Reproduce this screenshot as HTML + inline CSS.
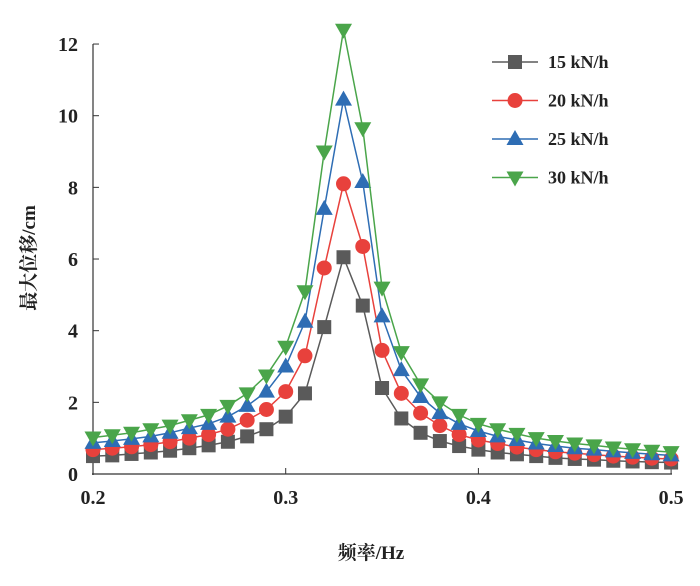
<!DOCTYPE html>
<html><head><meta charset="utf-8"><style>
body{margin:0;background:#fff}
svg text{font-family:"Liberation Serif","Noto Serif CJK SC",serif;font-weight:bold;fill:#222}
</style></head><body>
<svg id="s" width="700" height="581" xmlns="http://www.w3.org/2000/svg">
<line x1="93" y1="44" x2="93" y2="475" stroke="#333" stroke-width="1.2"/>
<line x1="92" y1="474" x2="672" y2="474" stroke="#333" stroke-width="1.2"/>
<g id="ticks"></g>
<g id="series"></g>
<text x="371" y="559" font-size="19" text-anchor="middle">频率/Hz</text>
<text transform="translate(35,258) rotate(-90)" font-size="19" text-anchor="middle">最大位移/cm</text>
<g id="legend"></g>
</svg>
<script>
var X=function(v){return 93+(v-0.2)/0.1*192.7},Y=function(v){return 474-v*35.83};
var t="";
for(var i=0;i<=12;i+=2){t+='<line x1="93" x2="99" y1="'+Y(i)+'" y2="'+Y(i)+'" stroke="#333"/><text x="78" y="'+(Y(i)+7)+'" font-size="20" text-anchor="end">'+i+'</text>';}
for(var k=0;k<=3;k++){var x=X(0.2+k*0.1);t+='<line x1="'+x+'" x2="'+x+'" y1="468" y2="474" stroke="#333"/><text x="'+x+'" y="504" font-size="20" text-anchor="middle">'+(0.2+k*0.1).toFixed(1)+'</text>';}
document.getElementById("ticks").innerHTML=t;
var D=[
[0.5,0.52,0.56,0.6,0.65,0.72,0.8,0.9,1.05,1.25,1.6,2.25,4.1,6.05,4.7,2.4,1.55,1.15,0.92,0.78,0.68,0.6,0.55,0.5,0.45,0.42,0.4,0.37,0.35,0.33,0.32],
[0.68,0.72,0.76,0.82,0.9,1.0,1.1,1.25,1.5,1.8,2.3,3.3,5.75,8.1,6.35,3.45,2.25,1.7,1.35,1.1,0.95,0.85,0.75,0.68,0.62,0.58,0.54,0.5,0.47,0.44,0.42],
[0.87,0.92,0.98,1.05,1.15,1.28,1.4,1.6,1.9,2.3,3.0,4.25,7.4,10.45,8.15,4.4,2.9,2.15,1.7,1.4,1.2,1.05,0.95,0.85,0.78,0.72,0.68,0.63,0.59,0.55,0.52],
[1.02,1.08,1.15,1.25,1.35,1.5,1.65,1.9,2.25,2.75,3.55,5.1,9.0,12.4,9.65,5.2,3.4,2.5,2.0,1.65,1.4,1.25,1.12,1.0,0.92,0.85,0.8,0.74,0.69,0.65,0.61]];
var C=["#5a5a5a","#e8413c","#2e6db4","#4aa54a"],L=["15 kN/h","20 kN/h","25 kN/h","30 kN/h"];
function mk(j,x,y){var c=C[j];
 if(j==0)return '<rect x="'+(x-7)+'" y="'+(y-7)+'" width="14" height="14" fill="'+c+'"/>';
 if(j==1)return '<circle cx="'+x+'" cy="'+y+'" r="7.5" fill="'+c+'"/>';
 if(j==2)return '<polygon points="'+x+','+(y-9)+' '+(x-8.5)+','+(y+6)+' '+(x+8.5)+','+(y+6)+'" fill="'+c+'"/>';
 return '<polygon points="'+x+','+(y+9)+' '+(x-8.5)+','+(y-6)+' '+(x+8.5)+','+(y-6)+'" fill="'+c+'"/>';}
var s="";
for(var j=0;j<4;j++){var p=[];for(var i=0;i<31;i++)p.push(X(0.2+i*0.01)+","+Y(D[j][i]));
 s+='<polyline points="'+p.join(" ")+'" fill="none" stroke="'+C[j]+'" stroke-width="1.5"/>';
 for(var i=0;i<31;i++)s+=mk(j,X(0.2+i*0.01),Y(D[j][i]));}
document.getElementById("series").innerHTML=s;
var g="";for(var j=0;j<4;j++){var y=62+j*38.5;
 g+='<line x1="492" x2="538" y1="'+y+'" y2="'+y+'" stroke="'+C[j]+'" stroke-width="1.5"/>'+mk(j,515,y)+'<text x="548" y="'+(y+6)+'" font-size="18">'+L[j]+'</text>';}
document.getElementById("legend").innerHTML=g;
</script>
</body></html>
